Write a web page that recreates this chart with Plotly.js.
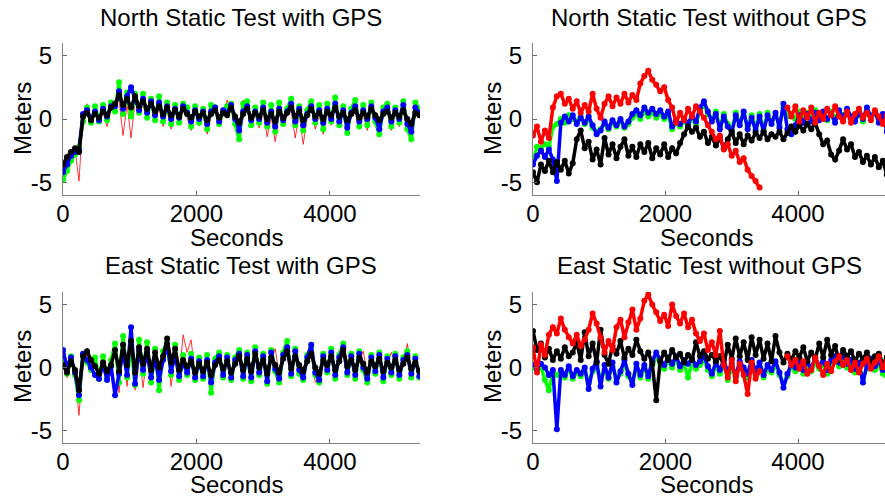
<!DOCTYPE html>
<html>
<head>
<meta charset="utf-8">
<script src="https://cdn.plot.ly/plotly-3.0.1.min.js"></script>
<style>html,body{margin:0;padding:0;background:#fff;}#chart{width:885px;height:497px;}</style>
</head>
<body>
<div id="chart"></div>
<script>
// ---- time samples (seconds) ----
const seconds = [0,60,120,180,240,300,360,420,480,540,
  600,660,720,780,840,900,960,1020,1080,1140,
  1200,1260,1320,1380,1440,1500,1560,1620,1680,1740,
  1800,1860,1920,1980,2040,2100,2160,2220,2280,2340,
  2400,2460,2520,2580,2640,2700,2760,2820,2880,2940,
  3000,3060,3120,3180,3240,3300,3360,3420,3480,3540,
  3600,3660,3720,3780,3840,3900,3960,4020,4080,4140,
  4200,4260,4320,4380,4440,4500,4560,4620,4680,4740,
  4800,4860,4920,4980,5040,5100,5160,5220,5280,5340];

// ---- North static test with GPS (meters) ----
const northGpsGreen = [-4.8,-4.1,-3.3,-2.8,-2.2,-0.2,0.9,-0.3,1.0,-0.2,
  1.1,-0.1,1.3,0.6,2.9,0.4,2.1,0.2,2.0,0.5,
  2.0,0.1,1.6,-0.1,1.8,-0.2,1.3,-0.4,1.1,-0.3,
  1.2,0.9,-0.6,1.0,-0.3,0.8,-0.8,1.1,0.9,-0.4,
  0.6,1.0,1.2,-0.4,-1.6,1.2,1.4,-0.5,0.9,-0.3,
  1.3,-0.6,1.1,-1.0,1.3,-0.4,0.8,1.6,-0.5,1.0,
  -0.9,0.7,1.4,-0.3,1.1,-0.8,1.2,-0.2,1.7,-0.5,
  1.0,-1.1,0.8,1.5,-0.6,1.1,-0.5,1.3,-0.2,-1.2,
  0.9,1.2,-0.6,0.9,-0.3,1.4,-0.8,-1.6,1.3,0.8];
const northGpsBlue = [-4.2,-3.6,-2.9,-2.6,-2.4,0.4,0.7,0.0,0.6,-0.1,
  0.8,0.2,1.0,1.0,2.2,0.8,1.8,2.5,1.5,0.7,
  1.6,0.5,1.4,0.3,1.3,0.2,1.0,0.0,0.8,0.1,
  1.0,0.5,-0.2,0.7,0.0,0.6,-0.4,0.6,0.9,-0.2,
  0.7,0.5,1.1,0.0,-0.9,0.6,1.0,-0.1,0.6,0.0,
  0.9,-0.3,0.6,-0.6,0.8,-0.1,0.6,1.2,-0.2,0.8,
  -0.5,0.4,1.0,0.0,0.7,-0.3,0.8,0.0,1.2,-0.2,
  0.7,-0.7,0.5,1.0,-0.2,0.7,0.0,1.0,0.1,-0.8,
  0.6,0.9,-0.2,0.7,0.0,1.1,-0.4,-1.0,0.9,0.5];
const northGpsRed = [-3.9,-3.2,-2.8,-2.4,-4.9,0.3,1.2,-0.2,0.3,0.0,
  0.5,-0.6,0.7,1.0,1.5,-1.3,1.2,-1.5,1.4,0.6,
  1.0,0.2,1.1,-0.2,0.8,-0.6,0.7,-0.8,0.5,-0.3,
  0.6,0.1,-0.9,0.4,-0.5,0.3,-1.2,0.2,0.5,-0.6,
  0.3,1.5,0.6,-0.3,-1.4,1.5,0.6,-0.5,0.3,-0.7,
  0.5,-1.4,0.2,-1.8,0.4,-0.6,0.3,0.6,-1.5,0.4,
  -2.0,0.1,1.0,-0.8,0.3,-1.2,0.4,-0.5,1.6,-0.3,
  0.3,-1.3,0.2,0.5,-0.8,0.3,-0.9,0.6,-0.4,-1.0,
  0.2,0.5,-0.9,0.3,-0.6,1.6,-0.4,-1.8,0.4,0.2];
const northGpsBlack = [-3.6,-3.0,-2.6,-2.3,-2.6,0.2,0.5,-0.1,0.4,0.1,
  0.6,0.3,0.9,1.2,1.9,1.1,1.6,0.9,1.8,1.0,
  1.4,0.8,1.2,0.6,1.0,0.4,0.9,0.3,0.7,0.2,
  0.8,0.4,0.1,0.6,0.2,0.5,-0.1,0.4,0.7,0.1,
  0.5,0.3,0.9,0.2,-0.3,0.4,0.8,0.1,0.5,0.2,
  0.7,0.0,0.4,-0.2,0.6,0.1,0.5,0.9,0.2,0.6,
  -0.1,0.3,0.8,0.2,0.5,0.0,0.6,0.3,0.9,0.2,
  0.5,-0.1,0.4,0.7,0.1,0.5,0.2,0.8,0.3,-0.1,
  0.4,0.6,0.1,0.5,0.2,0.7,0.0,-0.4,0.5,0.3];

// ---- North static test without GPS (meters) ----
const northNoGpsGreen = [-3.4,-2.2,-2.3,-2.0,-2.2,-0.6,-0.4,0.0,-0.3,0.3,
  0.0,-0.2,0.2,-0.4,0.0,-0.7,-1.0,-0.8,-0.4,-0.8,
  -0.3,-0.6,-0.2,-0.7,-0.4,0.1,0.4,0.0,0.6,0.2,
  0.5,0.1,0.4,0.0,0.3,-0.8,-0.3,-0.6,-0.2,-0.5,
  0.0,-0.4,0.6,1.1,0.4,0.0,0.6,-0.6,0.4,-0.4,
  -0.9,0.5,-0.3,0.4,-0.6,0.3,-0.7,0.4,-0.8,0.5,
  -0.2,0.3,-0.5,0.9,0.2,0.4,0.0,0.6,0.1,0.5,
  0.0,0.7,0.2,0.5,-0.1,0.6,0.1,0.5,0.3,0.6,
  0.0,0.3,0.4,-0.2,0.6,0.3,0.4,0.0,0.2,-0.5];
const northNoGpsBlue = [-3.6,-2.9,-2.5,-3.0,-2.4,-3.2,-4.9,-0.3,0.2,-0.2,
  0.3,-0.4,0.1,-0.3,0.2,-0.5,-1.2,-0.9,-0.2,-0.7,
  -0.1,-0.5,0.0,-0.6,-0.2,0.4,0.7,0.3,0.9,0.5,
  0.8,0.4,0.7,0.2,0.6,-0.6,-0.1,-0.4,0.0,-0.3,
  0.2,-0.2,0.9,1.4,0.6,-0.2,0.4,-0.8,0.2,-0.6,
  -1.1,0.3,-0.5,0.6,-0.8,0.1,-0.9,0.2,-1.0,0.3,
  -0.4,0.5,-0.7,1.2,-0.8,-1.2,-0.5,0.3,-0.3,0.4,
  -0.2,0.5,-0.1,0.6,0.0,0.4,-0.3,0.7,0.1,0.8,
  0.2,-0.2,0.5,0.0,0.9,0.2,0.6,-0.3,0.4,-1.0];
const northNoGpsBlack = [-4.2,-5.0,-3.6,-4.1,-3.3,-4.2,-3.4,-4.0,-3.3,-4.3,
  -3.5,-1.6,-0.9,-2.3,-1.8,-3.2,-2.4,-3.6,-1.5,-2.8,
  -2.0,-3.1,-2.2,-1.6,-2.9,-2.2,-3.0,-2.0,-2.6,-1.9,
  -3.1,-2.3,-2.8,-2.0,-3.0,-2.3,-2.7,-1.9,-1.2,-0.6,
  -1.0,-0.7,-1.4,-1.0,-1.9,-1.4,-2.1,-1.5,-2.3,-1.6,
  -1.0,-1.9,-1.2,-2.0,-1.3,-1.7,-1.1,-1.5,-1.0,-1.6,
  -1.2,-1.4,-1.0,-1.6,-1.1,-0.6,-1.0,-0.5,-0.9,-0.4,
  -0.8,-0.3,-1.2,-2.0,-1.7,-2.8,-3.2,-2.5,-1.6,-2.4,
  -2.0,-3.0,-2.6,-3.4,-2.9,-3.6,-3.0,-3.8,-3.3,-4.4];
const northNoGpsRed = [-1.3,-0.6,-1.8,-0.9,-1.5,0.9,1.8,2.0,1.2,1.6,
  0.8,1.4,0.5,1.1,0.6,2.0,0.8,0.1,1.2,1.8,
  1.0,1.7,1.2,2.0,1.3,1.9,1.5,2.8,3.4,3.8,
  3.1,2.7,2.2,2.5,1.5,0.9,-0.3,0.5,-0.1,0.8,
  0.2,1.0,0.6,0.1,-0.5,-1.0,-1.6,-1.3,-2.4,-2.0,
  -2.9,-2.5,-3.4,-3.1,-4.0,-4.5,-4.9,-5.4,null,null,
  null,null,null,null,0.9,0.2,1.0,-0.2,0.7,0.1,
  0.9,-0.3,0.5,0.0,0.8,0.3,1.0,0.2,-0.2,0.6,
  -0.3,0.4,0.8,0.1,0.5,-0.1,0.7,0.2,-0.4,0.3];

// ---- East static test with GPS (meters) ----
const eastGpsGreen = [1.2,-0.5,0.9,-0.6,-2.6,1.0,0.4,-0.2,0.8,-0.9,
  0.9,-0.8,0.6,1.9,-1.2,2.5,-0.8,1.7,-1.4,2.2,
  -0.5,2.0,-1.2,1.5,-1.8,1.3,2.0,-0.6,1.8,-1.0,
  1.0,-0.6,1.1,-1.0,0.8,-0.9,1.0,-2.0,0.7,1.2,
  -0.8,1.0,-1.0,0.8,1.4,-0.9,1.2,-1.1,1.6,-0.6,
  1.1,-1.3,1.4,-0.3,-1.2,1.2,2.1,-0.7,1.5,-0.5,
  -1.0,1.0,1.6,-0.6,-1.2,1.1,-0.4,1.5,-0.9,1.0,
  1.9,-0.6,1.1,-0.9,1.3,-0.2,-1.2,1.0,-0.5,1.2,
  -1.1,0.9,-0.6,1.1,-0.9,0.8,1.3,-0.8,0.9,-0.8];
const eastGpsBlue = [1.4,0.0,0.8,-0.4,-2.2,1.1,0.6,0.0,-0.6,-0.9,
  0.3,-1.0,0.1,-2.2,-0.5,1.2,-0.6,3.2,-1.3,1.4,
  -0.2,1.2,-0.8,0.8,-1.0,0.6,1.8,-0.3,1.0,-0.7,
  0.4,-0.4,0.7,-0.8,0.5,-0.7,0.6,-1.2,0.4,0.9,
  -0.6,0.8,-0.8,0.6,1.1,-0.7,1.0,-0.8,1.3,-0.4,
  0.9,-1.1,1.2,-0.1,-0.9,1.0,1.6,-0.5,1.3,-0.2,
  -0.8,0.8,1.8,-0.4,-1.0,0.9,-0.2,1.2,-0.6,0.8,
  1.6,-0.4,0.9,-0.6,1.1,0.0,-0.9,0.8,-0.3,1.0,
  -0.8,0.7,-0.4,0.9,-0.6,0.6,1.0,-0.5,0.7,-0.7];
const eastGpsRed = [0.5,-0.8,0.4,-0.5,-3.8,0.7,1.0,0.3,-0.7,-0.4,
  0.2,-1.2,0.0,1.6,-2.0,1.6,-1.5,1.9,-1.8,1.2,
  -1.6,1.1,-1.0,0.9,-1.4,0.5,1.9,-1.5,1.0,-0.8,
  2.6,1.2,2.2,-0.6,0.1,-0.8,0.3,-1.0,0.0,0.5,
  -0.5,0.4,-0.7,0.2,0.7,-0.5,0.5,-0.6,0.9,-0.4,
  0.4,-0.9,0.6,1.5,-0.6,0.5,1.1,-0.3,0.7,0.0,
  -0.5,0.3,1.0,-1.2,-0.6,0.4,0.0,0.7,-0.4,1.4,
  1.2,-0.1,0.5,-0.4,0.6,1.3,-0.6,0.4,-0.1,0.5,
  -0.5,0.3,1.2,0.4,-0.4,0.2,1.9,-0.3,0.2,-0.5];
const eastGpsBlack = [0.2,-0.4,0.5,-0.2,-1.8,0.9,1.3,0.6,0.1,-0.5,
  0.4,-0.3,0.2,1.4,-0.3,1.8,0.2,2.1,-0.4,1.6,
  0.3,1.5,-0.2,1.2,0.0,0.9,2.3,0.4,1.5,-0.2,
  0.6,0.1,0.5,-0.4,0.3,-0.3,0.4,-0.6,0.2,0.6,
  -0.1,0.5,-0.4,0.3,0.9,-0.2,0.7,-0.3,1.1,0.0,
  0.6,-0.5,0.8,0.2,-0.4,0.7,1.3,-0.1,0.9,0.2,
  -0.3,0.5,1.1,0.0,-0.5,0.6,0.2,0.9,-0.2,0.5,
  1.4,0.1,0.6,-0.2,0.8,0.3,-0.4,0.5,0.1,0.7,
  -0.3,0.4,0.0,0.6,-0.2,0.3,0.8,-0.1,0.4,-0.3];

// ---- East static test without GPS (meters) ----
const eastNoGpsGreen = [0.0,-0.3,0.1,-1.0,-1.8,-0.4,-0.6,-0.3,-0.8,-0.1,
  -0.9,-0.4,-0.7,-0.2,-1.2,-0.3,0.2,-1.0,-0.2,-0.9,
  0.1,-0.9,-0.5,0.3,-0.7,-1.1,0.0,-0.8,0.0,-0.9,
  0.2,0.8,0.3,-0.1,0.5,0.0,0.6,-0.2,0.3,-0.8,
  0.4,-0.1,0.2,0.6,-0.2,-0.7,0.1,-0.5,0.3,-1.0,
  0.0,-0.9,0.2,-0.3,-0.8,0.3,-0.6,0.1,-0.8,-0.1,
  -0.4,0.2,-0.6,-1.2,-0.7,0.1,-0.3,0.3,-0.5,0.1,
  -0.3,0.4,-0.1,0.2,-0.5,0.3,0.6,0.1,0.7,0.0,
  0.3,-0.4,0.1,-0.9,-0.1,0.4,-0.2,0.2,-0.5,-0.7];
const eastNoGpsBlue = [0.2,-0.1,0.3,0.0,-0.6,-0.2,-4.9,-0.2,-0.6,0.1,
  -0.7,-0.2,-0.5,0.0,-1.7,-0.1,0.5,-1.5,0.2,-0.8,
  0.4,-1.2,-0.3,0.6,-0.5,-1.4,0.3,-0.6,0.2,-0.7,
  0.5,1.2,0.6,0.2,0.8,0.3,0.9,0.1,0.6,0.3,
  0.7,0.2,0.5,0.9,0.1,-0.5,0.4,-0.2,0.6,-0.4,
  0.3,-0.7,0.5,0.0,-0.5,0.6,-0.3,0.4,-0.6,0.2,
  -0.2,0.5,-0.4,-1.6,-0.5,0.4,0.0,0.6,-0.2,0.4,
  0.0,0.7,0.2,0.5,-0.2,0.6,0.9,0.4,1.0,0.3,
  0.6,-0.1,0.4,-1.2,0.2,0.7,0.1,0.5,-0.2,0.2];
const eastNoGpsBlack = [2.9,1.4,1.9,0.8,1.5,0.6,1.3,0.7,1.6,0.9,
  1.2,2.0,0.6,2.8,0.9,1.9,0.4,3.0,1.0,0.3,
  1.7,1.1,2.1,0.8,1.5,1.0,2.2,1.3,0.7,1.2,
  0.3,-2.6,0.5,1.2,0.6,1.4,0.8,1.1,0.4,1.0,
  0.6,2.0,0.9,1.3,0.7,1.0,0.5,0.9,0.2,1.8,
  0.7,2.3,0.9,2.0,0.6,2.4,1.0,2.2,0.7,1.9,
  0.5,2.5,1.2,0.4,1.1,0.6,1.3,0.8,1.6,0.5,
  1.2,0.7,1.9,0.8,2.2,1.0,1.7,0.6,1.4,0.9,
  1.3,0.5,1.1,0.7,1.2,0.4,0.9,1.1,0.3,0.8];
const eastNoGpsRed = [1.6,-0.4,1.8,1.0,2.6,3.2,2.7,3.9,3.0,2.4,
  1.9,2.6,1.7,2.2,3.0,4.3,3.5,2.4,1.2,2.1,
  1.4,3.2,3.8,2.4,3.6,4.6,3.0,3.9,5.3,5.8,
  5.0,4.4,3.7,4.2,3.3,5.0,4.1,3.5,4.3,3.2,
  3.8,2.7,2.1,2.7,1.4,2.0,1.0,2.9,0.2,-0.8,
  0.6,-1.1,0.3,-0.6,-2.1,0.4,-0.9,-0.3,null,null,
  null,null,null,null,0.9,0.2,0.6,-0.1,0.5,-0.5,
  -0.2,0.8,0.1,-0.6,0.3,-0.3,0.5,0.9,0.2,0.6,
  -0.2,0.4,-0.4,0.3,0.7,-0.1,0.4,0.9,0.0,0.5];

// ---- labels ----
const panelTitles = ['North Static Test with GPS', 'North Static Test without GPS',
                     'East Static Test with GPS', 'East Static Test without GPS'];
const xTickVals = [0, 2000, 4000];
const xTickText = ['0', '2000', '4000'];
const yTickVals = [-5, 0, 5];
const yTickText = ['-5', '0', '5'];
const xLabel = 'Seconds';
const yLabel = 'Meters';

// ---- styling ----
const GREEN = '#00ff00', BLUE = '#0000ff', RED = '#ff0000', BLACK = '#000000';
const FONT = 'Liberation Sans, Arial, Helvetica, sans-serif';

function thick(y, color, xa, ya) {
  return {x: seconds, y: y, xaxis: xa, yaxis: ya, type: 'scatter', mode: 'lines+markers',
    line: {color: color, width: 3.5}, marker: {color: color, size: 6},
    connectgaps: false, hoverinfo: 'skip'};
}
function thin(y, color, xa, ya) {
  return {x: seconds, y: y, xaxis: xa, yaxis: ya, type: 'scatter', mode: 'lines',
    line: {color: color, width: 0.8}, connectgaps: false, hoverinfo: 'skip'};
}

const data = [
  // top-left
  thin(northGpsRed, RED, 'x', 'y'),
  thick(northGpsGreen, GREEN, 'x', 'y'),
  thick(northGpsBlue, BLUE, 'x', 'y'),
  thick(northGpsBlack, BLACK, 'x', 'y'),
  // top-right
  thick(northNoGpsGreen, GREEN, 'x2', 'y2'),
  thick(northNoGpsBlue, BLUE, 'x2', 'y2'),
  thick(northNoGpsBlack, BLACK, 'x2', 'y2'),
  thick(northNoGpsRed, RED, 'x2', 'y2'),
  // bottom-left
  thin(eastGpsRed, RED, 'x3', 'y3'),
  thick(eastGpsGreen, GREEN, 'x3', 'y3'),
  thick(eastGpsBlue, BLUE, 'x3', 'y3'),
  thick(eastGpsBlack, BLACK, 'x3', 'y3'),
  // bottom-right
  thick(eastNoGpsGreen, GREEN, 'x4', 'y4'),
  thick(eastNoGpsBlue, BLUE, 'x4', 'y4'),
  thick(eastNoGpsBlack, BLACK, 'x4', 'y4'),
  thick(eastNoGpsRed, RED, 'x4', 'y4')
];

const W = 885, H = 497;
const leftDom = [63 / W, 420 / W];
const rightDom = [533 / W, 1];
const topDom = [(H - 195) / H, (H - 43) / H];
const botDom = [(H - 443) / H, (H - 292) / H];

function xAxis(domain, range, anchor) {
  return {domain: domain, range: range, anchor: anchor, tickmode: 'array',
    tickvals: xTickVals, ticktext: xTickText, ticks: 'inside', ticklen: 4,
    tickcolor: '#666', showline: true, linecolor: '#808080', linewidth: 1,
    showgrid: false, zeroline: false, ticklabelstandoff: -3,
    tickfont: {size: 24, family: FONT, color: '#000'},
    automargin: false, fixedrange: true};
}
function yAxis(domain, anchor) {
  return {domain: domain, range: [-6, 6], anchor: anchor, tickmode: 'array',
    tickvals: yTickVals, ticktext: yTickText, ticks: 'inside', ticklen: 4,
    tickcolor: '#666', showline: true, linecolor: '#808080', linewidth: 1,
    showgrid: false, zeroline: false, ticklabelstandoff: 5,
    tickfont: {size: 24, family: FONT, color: '#000'},
    automargin: false, fixedrange: true};
}

const txt = {size: 24, family: FONT, color: '#000'};
const annotations = [];
// panel titles
const titlePos = [[241, 17], [709, 17], [241, 265], [709, 265]];
panelTitles.forEach((t, i) => annotations.push({
  text: t, xref: 'paper', x: titlePos[i][0] / W, xanchor: 'center',
  yref: 'paper', y: (H - titlePos[i][1]) / H, yanchor: 'middle',
  showarrow: false, font: txt}));
// axis titles
const xLabelPos = [[236, 237], [706, 237], [236, 484], [706, 484]];
xLabelPos.forEach(p => annotations.push({
  text: xLabel, xref: 'paper', x: p[0] / W, xanchor: 'center',
  yref: 'paper', y: (H - p[1]) / H, yanchor: 'middle', showarrow: false, font: txt}));
const yLabelPos = [[22, 119], [492, 119], [22, 367], [492, 367]];
yLabelPos.forEach(p => annotations.push({
  text: yLabel, textangle: -90, xref: 'paper', x: p[0] / W, xanchor: 'center',
  yref: 'paper', y: (H - p[1]) / H, yanchor: 'middle', showarrow: false, font: txt}));

const layout = {
  width: W, height: H,
  margin: {l: 0, r: 0, t: 0, b: 0, pad: 0},
  paper_bgcolor: '#ffffff', plot_bgcolor: '#ffffff',
  showlegend: false,
  font: {family: FONT, size: 24, color: '#000'},
  xaxis: xAxis(leftDom, [0, 5350], 'y'),
  yaxis: yAxis(topDom, 'x'),
  xaxis2: xAxis(rightDom, [0, 5313], 'y2'),
  yaxis2: yAxis(topDom, 'x2'),
  xaxis3: xAxis(leftDom, [0, 5350], 'y3'),
  yaxis3: yAxis(botDom, 'x3'),
  xaxis4: xAxis(rightDom, [0, 5313], 'y4'),
  yaxis4: yAxis(botDom, 'x4'),
  annotations: annotations
};

Plotly.newPlot('chart', data, layout, {displayModeBar: false, staticPlot: true});
</script>
</body>
</html>
